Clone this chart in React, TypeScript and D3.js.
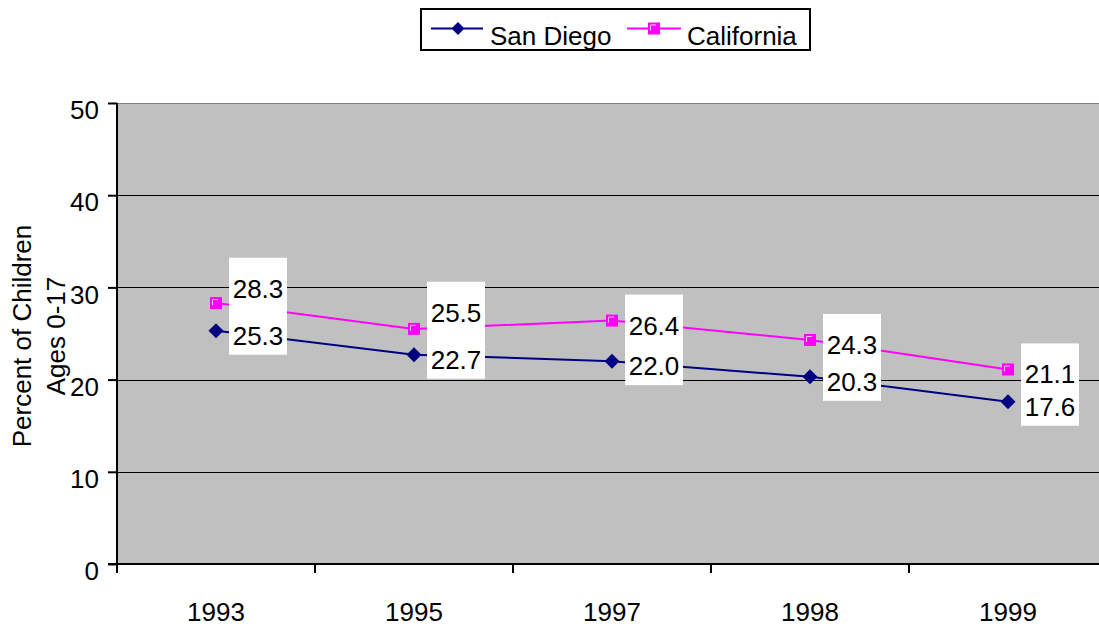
import { useEffect, useRef } from 'react'
import * as d3 from 'd3'

const years = ['1993', '1995', '1997', '1998', '1999']
const sanDiego = [25.3, 22.7, 22.0, 20.3, 17.6]
const california = [28.3, 25.5, 26.4, 24.3, 21.1]
const yTicks = [0, 10, 20, 30, 40, 50]

const FONT = '"Liberation Sans", Arial, sans-serif'
const FS = 26
const NAVY = '#000080'
const MAGENTA = '#FF00FF'

export default function App() {
  const svgRef = useRef<SVGSVGElement>(null)

  useEffect(() => {
    if (!svgRef.current) return
    const svg = d3.select(svgRef.current)
    svg.selectAll('*').remove()

    const left = 117
    const top = 103
    const bottom = 564
    const right = left + 198 * years.length

    const x = d3.scaleBand<string>().domain(years).range([left, right])
    const y = d3.scaleLinear().domain([0, 50]).range([bottom, top])
    const cx = (d: string) => (x(d) ?? 0) + x.bandwidth() / 2

    // plot area
    svg.append('rect')
      .attr('x', left).attr('y', top)
      .attr('width', right - left).attr('height', bottom - top)
      .attr('fill', '#C0C0C0')
    svg.append('line')
      .attr('x1', left).attr('x2', right).attr('y1', top + 0.5).attr('y2', top + 0.5)
      .attr('stroke', '#808080')

    svg.append('g')
      .selectAll('line')
      .data(yTicks.filter(t => t > 0 && t < 50))
      .enter()
      .append('line')
      .attr('x1', left).attr('x2', right)
      .attr('y1', d => Math.round(y(d)) + 0.5).attr('y2', d => Math.round(y(d)) + 0.5)
      .attr('stroke', '#000').attr('stroke-width', 1)

    // y axis
    const yAxis = svg.append('g')
      .attr('transform', `translate(${left},0)`)
      .call(d3.axisLeft(y).tickValues(yTicks).tickSize(9).tickPadding(9).tickFormat(d3.format('d')))
    yAxis.select('.domain').remove()
    yAxis.selectAll('line').attr('stroke', '#000').attr('stroke-width', 2)
    yAxis.selectAll('text')
      .attr('font-family', FONT).attr('font-size', FS).attr('fill', '#000')
      .attr('dy', '0.6em')
    svg.append('line')
      .attr('x1', left).attr('x2', left).attr('y1', top).attr('y2', bottom + 9)
      .attr('stroke', '#000').attr('stroke-width', 2)

    // x axis
    svg.append('line')
      .attr('x1', left - 9).attr('x2', right).attr('y1', bottom).attr('y2', bottom)
      .attr('stroke', '#000').attr('stroke-width', 2)
    svg.append('g')
      .selectAll('line')
      .data(years)
      .enter()
      .append('line')
      .attr('x1', d => x(d) ?? 0).attr('x2', d => x(d) ?? 0)
      .attr('y1', bottom).attr('y2', bottom + 9)
      .attr('stroke', '#000').attr('stroke-width', 2)
    svg.append('g')
      .selectAll('text')
      .data(years)
      .enter()
      .append('text')
      .attr('x', d => cx(d)).attr('y', 621)
      .attr('text-anchor', 'middle')
      .attr('font-family', FONT).attr('font-size', FS)
      .text(d => d)

    // axis title
    const title = svg.append('text')
      .attr('transform', 'translate(0,336) rotate(-90)')
      .attr('text-anchor', 'middle')
      .attr('font-family', FONT).attr('font-size', FS)
    title.append('tspan').attr('x', 0).attr('y', 31).text('Percent of Children')
    title.append('tspan').attr('x', 0).attr('y', 65).text('Ages 0-17')

    const line = d3.line<number>()
      .x((_, i) => cx(years[i]))
      .y(d => y(d))

    const diamond = (g: d3.Selection<SVGGElement, unknown, null, undefined>, px: number, py: number, r: number) =>
      g.append('path')
        .attr('d', `M${px},${py - r}L${px + r},${py}L${px},${py + r}L${px - r},${py}Z`)
        .attr('fill', NAVY)

    const square = (g: d3.Selection<SVGGElement, unknown, null, undefined>, px: number, py: number) => {
      g.append('rect')
        .attr('x', px - 6).attr('y', py - 6).attr('width', 12).attr('height', 12)
        .attr('fill', MAGENTA)
      g.append('path')
        .attr('d', `M${px - 3.5},${py + 2}V${py - 3.5}H${px + 2}`)
        .attr('fill', 'none').attr('stroke', '#FFC8FF').attr('stroke-width', 1)
    }

    const marks = svg.append('g')
    marks.append('path').datum(sanDiego).attr('d', line)
      .attr('fill', 'none').attr('stroke', NAVY).attr('stroke-width', 2)
    marks.append('path').datum(california).attr('d', line)
      .attr('fill', 'none').attr('stroke', MAGENTA).attr('stroke-width', 2)
    sanDiego.forEach((v, i) => diamond(marks, cx(years[i]), y(v), 7.5))
    california.forEach((v, i) => square(marks, cx(years[i]), y(v)))

    // data labels, upper label pushed up when the pair is too close
    const labels = svg.append('g')
    years.forEach((yr, i) => {
      const cSd = y(sanDiego[i]) + 5
      let cCa = y(california[i]) + 5
      if (cSd - cCa < 30) cCa = cSd - 47
      const bx = cx(yr) + 13
      ;[cCa, cSd].forEach(c => {
        labels.append('rect')
          .attr('x', bx).attr('y', c - 31).attr('width', 58).attr('height', 50)
          .attr('fill', '#fff')
      })
      ;[[cCa, california[i]], [cSd, sanDiego[i]]].forEach(([c, v]) => {
        labels.append('text')
          .attr('x', bx + 29).attr('y', c + 9)
          .attr('text-anchor', 'middle')
          .attr('font-family', FONT).attr('font-size', FS)
          .text(d3.format('.1f')(v))
      })
    })

    // legend
    const legend = svg.append('g')
    legend.append('rect')
      .attr('x', 421).attr('y', 9).attr('width', 389).attr('height', 41)
      .attr('fill', '#fff').attr('stroke', '#000').attr('stroke-width', 2)
    legend.append('line').attr('x1', 431).attr('x2', 483).attr('y1', 28.5).attr('y2', 28.5)
      .attr('stroke', NAVY).attr('stroke-width', 2)
    diamond(legend, 458, 28.5, 6.5)
    legend.append('text').attr('x', 490).attr('y', 45)
      .attr('font-family', FONT).attr('font-size', FS).text('San Diego')
    legend.append('line').attr('x1', 627).attr('x2', 681).attr('y1', 28.5).attr('y2', 28.5)
      .attr('stroke', MAGENTA).attr('stroke-width', 2)
    square(legend, 654, 28.5)
    legend.append('text').attr('x', 687).attr('y', 45)
      .attr('font-family', FONT).attr('font-size', FS).text('California')
  }, [])

  return (
    <svg
      ref={svgRef}
      width={1099}
      height={627}
      style={{ position: 'absolute', left: 0, top: 0, background: '#fff' }}
    />
  )
}
